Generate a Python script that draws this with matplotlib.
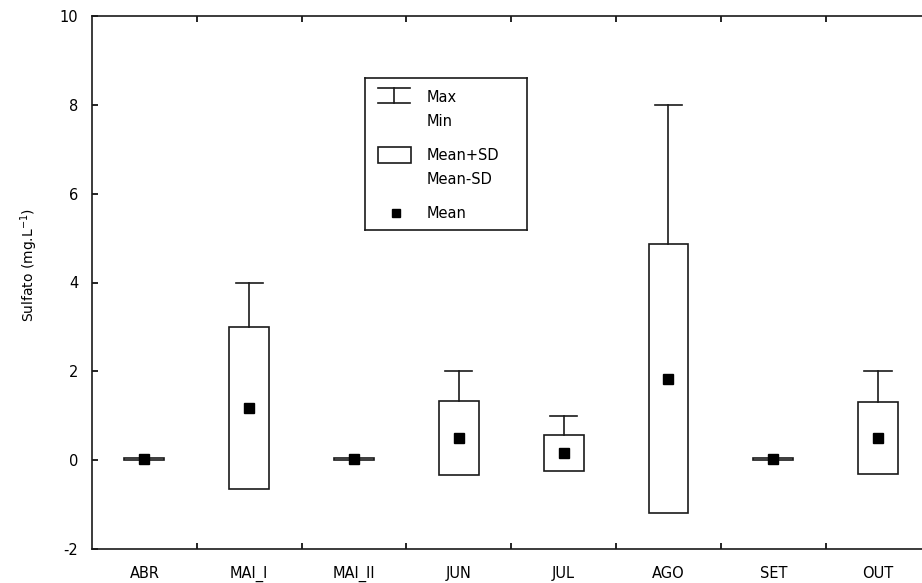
import matplotlib
matplotlib.use("Agg")
import matplotlib.pyplot as plt
import numpy as np

categories = ["ABR", "MAI_I", "MAI_II", "JUN", "JUL", "AGO", "SET", "OUT"]
means = [0.02, 1.175, 0.02, 0.5, 0.16, 1.835, 0.02, 0.5]
sds = [0.02, 1.825, 0.02, 0.83, 0.40, 3.035, 0.02, 0.82]
maxs = [0.04, 4.0, 0.04, 2.0, 1.0, 8.0, 0.04, 2.0]
mins = [0.0, 0.0, 0.0, 0.0, 0.0, 0.0, 0.0, 0.0]
yticks = [-2, 0, 2, 4, 6, 8, 10]

plt.rcParams['font.family'] = ['DejaVu Sans']
plt.rcParams['axes.unicode_minus'] = False
W, H = 922, 583
fig = plt.figure(figsize=(W / 100, H / 100), dpi=100)
L, R, T, B = 92, 930.5, 16, 549
ax = fig.add_axes([L / W, 1 - B / H, (R - L) / W, (B - T) / H])

lw = 1.2
col = "#1a1a1a"
n = len(categories)
x = np.arange(n)
bw = 0.38
cw = 0.26
for i in range(n):
    m, s = means[i], sds[i]
    top, bot = m + s, m - s
    ax.add_patch(plt.Rectangle((x[i] - bw / 2, bot), bw, top - bot,
                               fill=False, edgecolor=col, linewidth=lw, zorder=3))
    if maxs[i] > top:
        ax.plot([x[i], x[i]], [top, maxs[i]], color=col, lw=lw, zorder=3)
        ax.plot([x[i] - cw / 2, x[i] + cw / 2], [maxs[i], maxs[i]], color=col, lw=lw, zorder=3)
    if mins[i] < bot:
        ax.plot([x[i], x[i]], [bot, mins[i]], color=col, lw=lw, zorder=3)
        ax.plot([x[i] - cw / 2, x[i] + cw / 2], [mins[i], mins[i]], color=col, lw=lw, zorder=3)
ax.plot(x, means, linestyle="none", marker="s", markersize=7, color="black", zorder=4)

ax.set_xlim(-0.5, n - 0.5)
ax.set_ylim(-2, 10)
ax.set_yticks(yticks)
ax.set_xticks(x)
ax.set_xticklabels(categories)
ax.set_xticks(np.arange(n - 1) + 0.5, minor=True)
ax.tick_params(axis="x", which="major", length=0, pad=12, labelsize=10.5)
ax.tick_params(axis="x", which="minor", direction="in", length=4, width=lw, top=True, bottom=True)
ax.tick_params(axis="y", which="major", direction="in", length=4, width=lw, pad=10, labelsize=10.5)
for sp in ax.spines.values():
    sp.set_linewidth(lw)
    sp.set_color(col)
ax.set_ylabel("Sulfato (mg.L$^{-1}$)", fontsize=10)
ax.yaxis.set_label_coords(-52 / (R - L), (B - 265) / (B - T))

# legend box drawn in pixel coordinates
lx0, ly0, lx1, ly1 = 365, 78, 527, 230
lax = fig.add_axes([lx0 / W, 1 - ly1 / H, (lx1 - lx0) / W, (ly1 - ly0) / H])
lax.set_xlim(lx0, lx1)
lax.set_ylim(ly1, ly0)
lax.set_xticks([])
lax.set_yticks([])
for sp in lax.spines.values():
    sp.set_linewidth(lw)
    sp.set_color(col)
lax.plot([378, 410], [88, 88], color=col, lw=lw)
lax.plot([378, 410], [103, 103], color=col, lw=lw)
lax.plot([394, 394], [88, 103], color=col, lw=lw)
lax.add_patch(plt.Rectangle((378, 147), 33, 16, fill=False, edgecolor=col, linewidth=lw))
lax.plot([395.5], [213], marker="s", markersize=6, color="black")
fs = 10.5
for txt, yy in [("Max", 97), ("Min", 122), ("Mean+SD", 155), ("Mean-SD", 179), ("Mean", 213)]:
    lax.text(427, yy, txt, fontsize=fs, va="center", ha="left")

fig.savefig("out.png", dpi=100)
